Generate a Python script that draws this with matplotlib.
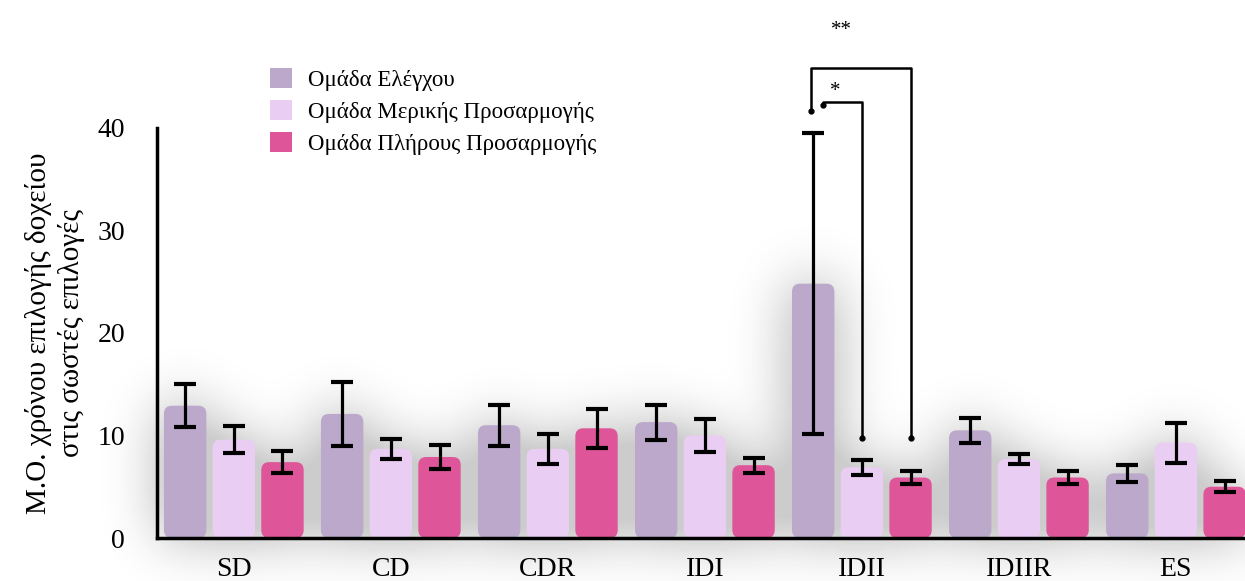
import numpy as np
import matplotlib.pyplot as plt
from matplotlib.patches import FancyBboxPatch, Patch

# Data
categories = ['SD', 'CD', 'CDR', 'IDI', 'IDII', 'IDIIR', 'ES']
groups = ['Ομάδα Ελέγχου', 'Ομάδα Μερικής Προσαρμογής', 'Ομάδα Πλήρους Προσαρμογής']

control_mean = [12.9, 12.1, 11.0, 11.3, 24.8, 10.5, 6.3]
control_err = [2.1, 3.1, 2.0, 1.7, 14.7, 1.2, 0.85]
partial_mean = [9.6, 8.7, 8.7, 10.0, 6.9, 7.7, 9.3]
partial_err = [1.35, 0.95, 1.45, 1.6, 0.75, 0.5, 1.95]
full_mean = [7.4, 7.9, 10.7, 7.1, 5.9, 5.9, 5.0]
full_err = [1.1, 1.2, 1.9, 0.75, 0.6, 0.6, 0.55]

colors = ['#bba8cb', '#eacdf2', '#de5699']

plt.rcParams['font.family'] = ['Liberation Serif', 'DejaVu Serif']

W, H = 1245, 581
fig = plt.figure(figsize=(W / 100, H / 100), dpi=100)
ax = fig.add_axes([0.126, 0.074, 0.874, 0.706])
ax.patch.set_alpha(0)

x = np.arange(len(categories))
width = 0.27
offset = 0.31
means = [control_mean, partial_mean, full_mean]
errs = [control_err, partial_err, full_err]

ax.set_xlim(-0.49, 6.44)
ax.set_ylim(0, 40)

# rounded corners: 8 px radius
px_x = 6.93 / (0.874 * W)
px_y = 40 / (0.706 * H)
glow = np.zeros((H, W))
for i in range(3):
    bars = ax.bar(x + (i - 1) * offset, means[i], width, color=colors[i])
    for b in bars:
        b.set_visible(False)
        fb = FancyBboxPatch((b.get_x(), 0), b.get_width(), b.get_height(),
                            boxstyle='round,pad=0,rounding_size=%f' % (8 * px_x),
                            mutation_aspect=px_y / px_x,
                            facecolor=colors[i], edgecolor='none', zorder=2)
        ax.add_patch(fb)
        # soft shadow mask
        (x0, y0), (x1, y1) = ax.transData.transform(
            [(b.get_x(), 0), (b.get_x() + b.get_width(), b.get_height())])
        glow[int(H - y1):int(H - y0), int(x0):int(x1)] = 1.0
    ax.errorbar(x + (i - 1) * offset, means[i], yerr=errs[i], fmt='none',
                ecolor='black', elinewidth=2.3, capsize=8, capthick=3, zorder=4)

# blur the shadow mask (separable gaussian)
sigma = 28
k = np.exp(-0.5 * (np.arange(-3 * sigma, 3 * sigma + 1) / sigma) ** 2)
k /= k.sum()
glow = np.apply_along_axis(lambda r: np.convolve(r, k, mode='same'), 1, glow)
glow = np.apply_along_axis(lambda c: np.convolve(c, k, mode='same'), 0, glow)
shade = 1 - 0.2 * np.clip(glow / 0.55, 0, 1)
bg = fig.add_axes([0, 0, 1, 1], zorder=-1)
bg.imshow(shade, cmap='gray', vmin=0, vmax=1, aspect='auto', interpolation='bilinear')
bg.axis('off')

# significance brackets on IDII
xc = x[4] - offset
xp = x[4]
xf = x[4] + offset
ax.plot([xc - 0.015, xc - 0.015, xf, xf], [41.6, 45.8, 45.8, 9.8], color='black',
        lw=1.8, clip_on=False, zorder=5)
ax.plot([xc - 0.015, xf], [41.6, 9.8], 'o', color='black', ms=3.5, clip_on=False)
ax.plot([xc + 0.06, xc + 0.06, xp, xp], [42.2, 42.5, 42.5, 9.8], color='black',
        lw=1.8, clip_on=False, zorder=5)
ax.plot([xc + 0.06, xp], [42.2, 9.8], 'o', color='black', ms=3.5, clip_on=False)
ax.text(3.87, 49.5, '**', ha='center', va='center', fontsize=15, clip_on=False)
ax.text(3.83, 43.5, '*', ha='center', va='center', fontsize=15, clip_on=False)

ax.set_xticks(x)
ax.set_xticklabels(categories, fontsize=20)
ax.set_yticks([0, 10, 20, 30, 40])
ax.tick_params(axis='both', length=0, labelsize=20)
ax.tick_params(axis='y', pad=23)
ax.tick_params(axis='x', pad=14)
ax.set_ylabel('Μ.Ο. χρόνου επιλογής δοχείου\nστις σωστές επιλογές', fontsize=21,
              linespacing=1.3)
ax.yaxis.set_label_coords(-0.066, 0.5)

for s in ['top', 'right']:
    ax.spines[s].set_visible(False)
ax.spines['left'].set_linewidth(2.5)
ax.spines['bottom'].set_linewidth(2.5)

handles = [Patch(facecolor=c, edgecolor='none') for c in colors]
ax.legend(handles, groups, loc='upper left', bbox_to_anchor=(0.085, 1.195),
          frameon=False, fontsize=16.5, handlelength=0.95, handleheight=0.95,
          labelspacing=0.4, handletextpad=0.7)

fig.savefig('out.png', dpi=100)
